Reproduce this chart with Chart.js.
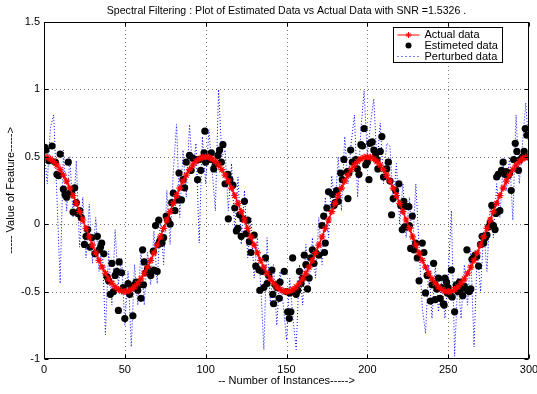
<!DOCTYPE html>
<html>
<head>
<meta charset="utf-8">
<script src="https://cdn.jsdelivr.net/npm/chart.js"></script>
<style>
html,body{margin:0;padding:0;background:#fff;}
#wrap{width:537px;height:394px;position:relative;}
</style>
</head>
<body>
<div id="wrap"><canvas id="c" width="537" height="394"></canvas></div>
<script>
// ---------- data ----------
const titleText = "Spectral Filtering : Plot of Estimated Data vs Actual Data with SNR =1.5326 .";
const xLabelText = "-- Number of Instances----->";
const yLabelText = "----- Value of Feature----->";
const legendLabels = ["Actual data", "Estimeted data", "Perturbed data"];
const xTicks = [0, 50, 100, 150, 200, 250, 300];
const yTicks = [-1, -0.5, 0, 0.5, 1, 1.5];

const instances = [0,2,4,6,8,10,12,14,16,18,20,22,24,26,28,30,32,34,36,38,40,42,44,46,48,50,52,54,56,58,60,62,64,66,68,70,72,74,76,78,80,82,84,86,88,90,92,94,96,98,
100,102,104,106,108,110,112,114,116,118,120,122,124,126,128,130,132,134,136,138,140,142,144,146,148,150,152,154,156,158,160,162,164,166,168,170,172,174,176,178,180,182,184,186,188,190,192,194,196,198,
200,202,204,206,208,210,212,214,216,218,220,222,224,226,228,230,232,234,236,238,240,242,244,246,248,250,252,254,256,258,260,262,264,266,268,270,272,274,276,278,280,282,284,286,288,290,292,294,296,298,300];

const actualData = [0.5,0.496,0.484,0.465,0.438,0.405,0.364,0.319,0.268,0.213,0.155,0.094,0.031,-0.031,-0.094,-0.155,-0.213,-0.268,-0.319,-0.364,-0.405,-0.438,-0.465,-0.484,-0.496,-0.5,-0.496,-0.484,-0.465,-0.438,-0.405,-0.364,-0.319,-0.268,-0.213,-0.155,-0.094,-0.031,0.031,0.094,0.155,0.213,0.268,0.319,0.364,0.405,0.438,0.465,0.484,0.496,
0.5,0.496,0.484,0.465,0.438,0.405,0.364,0.319,0.268,0.213,0.155,0.094,0.031,-0.031,-0.094,-0.155,-0.213,-0.268,-0.319,-0.364,-0.405,-0.438,-0.465,-0.484,-0.496,-0.5,-0.496,-0.484,-0.465,-0.438,-0.405,-0.364,-0.319,-0.268,-0.213,-0.155,-0.094,-0.031,0.031,0.094,0.155,0.213,0.268,0.319,0.364,0.405,0.438,0.465,0.484,0.496,
0.5,0.496,0.484,0.465,0.438,0.405,0.364,0.319,0.268,0.213,0.155,0.094,0.031,-0.031,-0.094,-0.155,-0.213,-0.268,-0.319,-0.364,-0.405,-0.438,-0.465,-0.484,-0.496,-0.5,-0.496,-0.484,-0.465,-0.438,-0.405,-0.364,-0.319,-0.268,-0.213,-0.155,-0.094,-0.031,0.031,0.094,0.155,0.213,0.268,0.319,0.364,0.405,0.438,0.465,0.484,0.496,
0.5];

const perturbedData = [0.55,0.3,0.72,0.81,0.2,-0.44,0.55,0.1,0.5,0.05,0.47,-0.17,0.2,-0.25,0.15,-0.29,0.05,-0.35,-0.13,-0.82,-0.2,-0.6,-0.04,-0.45,-0.25,-0.75,-0.35,-0.91,-0.3,-0.6,
-0.2,-0.6,-0.21,-0.45,-0.05,-0.44,0.05,-0.3,0.25,-0.15,0.4,0.74,0.05,0.55,0.2,0.74,0.38,0.6,-0.14,0.65,
0.3,0.7,0.4,0.1,1.0,0.5,0.55,0.1,0.45,-0.05,0.35,-0.15,0.25,-0.25,0.05,-0.4,-0.1,-0.44,-0.93,-0.1,
-0.6,-0.3,-0.75,-0.35,-0.6,-0.86,-0.4,-0.7,-0.93,-0.3,-0.6,-0.15,-0.45,-0.1,-0.4,0.05,-0.3,0.2,-0.1,0.36,
0.13,0.5,0.1,0.65,0.3,0.6,0.81,0.2,0.7,0.99,0.5,0.75,0.93,0.45,0.75,0.3,0.6,0.58,0.16,0.45,
0.0,0.3,-0.1,0.2,-0.2,0.3,-0.16,-0.62,-0.81,-0.3,-0.7,-0.3,-0.65,-0.4,-0.7,-0.39,0.1,-0.98,-0.4,-0.7,
-0.3,-0.6,-0.2,-0.91,-0.2,-0.5,-0.05,-0.35,0.15,-0.1,0.3,0.05,0.45,0.25,0.5,0.03,0.81,0.3,0.6,0.9,0.55];

const estX = [0.6,1.2,3,5,7,8,9,10,12,13,14,15,16,17,18,19,20,21,22,23,25,26,27,28.5,29.5,31.5,33,34,35,35.7,37,39,40,41,42,43,44,45,46,46.5,48,49,50,52,53,54,55,56,57,58,59,60,
61,61.5,62,63,64,65,66,67.6,68,69,70,70.7,71,71.5,72,73,74,75.6,76.6,78,79,80,81,83,83.5,85,86,87,88,90,91,92,94,95,96,97,99,99.5,100,102.5,103.5,105,106,107.6,108.6,109.7,110.7,112,113.8,114,115,116.9,118,119,
120,121,122,123,124,125,126,127,128,130,131,133,133.5,135,136,137,138,139,141,141.5,142,143,144,145.5,146,148.6,150,150.7,151.7,152,152.7,153.8,155,156,157,158,159,160,161,162,163,164,165,166,167,168,170,172,173,173.5,174,175,176,178.5,179.5,
180,181,182,183.5,184.5,185.5,187.6,188,188.6,189.7,190.7,192.8,193.8,194.8,196,197,198,199,200,201,201.6,203,204,205,206,206.5,208,209,210,212,213,214,215,216,217.5,219.5,220.6,221.6,222.6,223,223.6,224.7,225.7,226,226.8,227.8,228.8,229.9,230.9,232,234,235,236,237,239,240,
241,241.5,242,243,244,245,246,247,247.5,248,249,249.5,250,251,252,252.5,254,255,256,257,258,259,260,261.6,262,263,264,264.7,265.7,266.7,267.7,268.8,270,271,272,273,274,275,276,277,278,279,279.5,280,280.5,281,282,283,284,285,286,287,288,289,290.5,291.5,292.5,293.5,294.5,296,297,297.7,298.7,299.7];

const estY = [0.57,0.55,0.47,0.58,0.46,0.37,0.36,0.52,0.26,0.22,0.2,0.46,0.23,0.24,0.09,0.27,0.16,0.08,0.1,0.05,-0.15,-0.09,-0.04,-0.17,-0.1,-0.22,-0.09,-0.19,-0.17,-0.14,-0.22,-0.39,-0.42,-0.52,-0.29,-0.5,-0.38,-0.35,-0.64,-0.28,-0.36,-0.47,-0.7,-0.44,-0.52,-0.47,-0.68,-0.45,-0.43,-0.49,-0.45,-0.55,
-0.19,-0.45,-0.28,-0.36,-0.33,-0.36,-0.38,-0.2,-0.34,-0.01,-0.35,-0.15,0.03,-0.13,-0.12,-0.14,-0.1,0.06,0.03,0.0,0.16,0.23,0.1,0.18,0.38,0.18,0.33,0.27,0.46,0.51,0.4,0.49,0.48,0.33,0.48,0.4,0.53,0.69,0.46,0.48,0.53,0.41,0.45,0.51,0.55,0.46,0.59,0.3,0.37,0.04,0.33,0.29,0.12,-0.05,
-0.03,0.07,-0.09,0.04,0.17,-0.07,0.03,-0.13,-0.21,-0.08,-0.31,-0.34,-0.49,-0.35,-0.47,-0.25,-0.44,-0.38,-0.34,-0.52,-0.59,-0.45,-0.47,-0.55,-0.43,-0.35,-0.5,-0.65,-0.7,-0.51,-0.65,-0.25,-0.5,-0.52,-0.49,-0.35,-0.44,-0.4,-0.23,-0.3,-0.48,-0.4,-0.25,-0.19,-0.29,-0.21,-0.23,-0.01,0.06,-0.21,-0.14,0.12,0.24,0.22,0.14,
0.16,0.25,0.17,0.38,0.33,0.48,0.39,0.19,0.38,0.55,0.46,0.48,0.41,0.37,0.59,0.58,0.71,0.44,0.46,0.33,0.6,0.61,0.55,0.51,0.48,0.41,0.54,0.65,0.35,0.41,0.46,0.32,0.07,0.19,0.25,0.3,0.14,-0.04,0.17,-0.02,0.13,-0.02,0.13,-0.01,-0.18,0.06,-0.19,-0.14,-0.25,-0.42,-0.14,-0.21,-0.51,-0.38,-0.57,-0.45,
-0.29,-0.44,-0.56,-0.48,-0.4,-0.55,-0.47,-0.59,-0.6,-0.4,-0.43,-0.51,-0.47,-0.52,-0.34,-0.54,-0.65,-0.45,-0.5,-0.43,-0.48,-0.53,-0.46,-0.19,-0.49,-0.5,-0.48,-0.26,-0.25,-0.23,-0.24,-0.31,-0.15,-0.09,-0.14,-0.1,-0.08,-0.02,0.01,0.14,-0.01,-0.04,0.08,0.35,0.09,0.37,0.1,0.4,0.46,0.37,0.39,0.36,0.38,0.25,0.48,0.6,0.54,0.4,0.48,0.5,0.54,0.71,0.66,0.5];

// ---------- styles ----------
const FONT = "'Liberation Sans', Arial, Helvetica, sans-serif";
const RED = '#ff0000', BLUE = '#0000ff', BLACK = '#000000';

function pts(xs, ys){ return xs.map((x,i)=>({x:x, y:ys[i]})); }

function drawAsterisk(ctx, x, y, r){
  ctx.beginPath();
  for (let k=0;k<4;k++){
    const a = k*Math.PI/4;
    ctx.moveTo(x - r*Math.cos(a), y - r*Math.sin(a));
    ctx.lineTo(x + r*Math.cos(a), y + r*Math.sin(a));
  }
  ctx.stroke();
}

const decor = {
  id: 'decor',
  beforeDatasetsDraw(chart){
    const {ctx, chartArea:a, scales:{x, y}} = chart;
    ctx.save();
    ctx.strokeStyle = 'rgba(0,0,0,0.55)';
    ctx.lineWidth = 1;
    ctx.setLineDash([1,3]);
    xTicks.forEach(v=>{
      if (v===xTicks[0] || v===xTicks[xTicks.length-1]) return;
      const px = Math.round(x.getPixelForValue(v)) + 0.5;
      ctx.beginPath(); ctx.moveTo(px, a.top); ctx.lineTo(px, a.bottom); ctx.stroke();
    });
    yTicks.forEach(v=>{
      if (v===yTicks[0] || v===yTicks[yTicks.length-1]) return;
      const py = Math.round(y.getPixelForValue(v)) + 0.5;
      ctx.beginPath(); ctx.moveTo(a.left, py); ctx.lineTo(a.right, py); ctx.stroke();
    });
    ctx.restore();
  },
  afterDraw(chart){
    const {ctx, chartArea:a, scales:{x, y}} = chart;
    ctx.save();
    // frame
    ctx.setLineDash([]);
    ctx.strokeStyle = BLACK; ctx.lineWidth = 1;
    const L = Math.round(a.left)+0.5, R = Math.round(a.right)-0.5, T = Math.round(a.top)+0.5, B = Math.round(a.bottom)-0.5;
    ctx.strokeRect(L, T, R-L, B-T);
    // inward ticks
    const tl = 4;
    ctx.beginPath();
    xTicks.forEach(v=>{
      const px = Math.round(x.getPixelForValue(v)) + 0.5;
      ctx.moveTo(px, B); ctx.lineTo(px, B-tl);
      ctx.moveTo(px, T); ctx.lineTo(px, T+tl);
    });
    yTicks.forEach(v=>{
      const py = Math.round(y.getPixelForValue(v)) + 0.5;
      ctx.moveTo(L, py); ctx.lineTo(L+tl, py);
      ctx.moveTo(R, py); ctx.lineTo(R-tl, py);
    });
    ctx.stroke();
    // title
    ctx.fillStyle = BLACK;
    ctx.font = '10.6px ' + FONT;
    ctx.textAlign = 'center'; ctx.textBaseline = 'middle';
    ctx.fillText(titleText, (a.left + a.right)/2, 11);
    // x label
    ctx.font = '11px ' + FONT;
    ctx.fillText(xLabelText, (a.left + a.right)/2, 381);
    // y label
    ctx.save();
    ctx.translate(11, (a.top + a.bottom)/2);
    ctx.rotate(-Math.PI/2);
    ctx.fillText(yLabelText, 0, 0);
    ctx.restore();
    // legend
    const bx = Math.round(a.right) - 136 + 0.5, by = Math.round(a.top) + 5 + 0.5, bw = 109, bh = 35;
    ctx.fillStyle = '#fff';
    ctx.fillRect(bx, by, bw, bh);
    ctx.strokeStyle = BLACK; ctx.lineWidth = 1;
    ctx.strokeRect(bx, by, bw, bh);
    const rows = [by + 7.5, by + 18, by + 29];
    const sx0 = bx + 4, sx1 = bx + 26, sxm = (sx0 + sx1)/2;
    // actual
    ctx.strokeStyle = RED; ctx.lineWidth = 1;
    ctx.beginPath(); ctx.moveTo(sx0, rows[0]); ctx.lineTo(sx1, rows[0]); ctx.stroke();
    drawAsterisk(ctx, sxm, rows[0], 3);
    // estimated
    ctx.fillStyle = BLACK;
    ctx.beginPath(); ctx.arc(sxm, rows[1], 3, 0, Math.PI*2); ctx.fill();
    // perturbed
    ctx.strokeStyle = BLUE; ctx.setLineDash([1,3]);
    ctx.beginPath(); ctx.moveTo(sx0, rows[2]); ctx.lineTo(sx1, rows[2]); ctx.stroke();
    ctx.setLineDash([]);
    ctx.fillStyle = BLACK;
    ctx.font = '11px ' + FONT;
    ctx.textAlign = 'left'; ctx.textBaseline = 'middle';
    legendLabels.forEach((t,i)=>ctx.fillText(t, bx + 31, rows[i]));
    ctx.restore();
  }
};

new Chart(document.getElementById('c'), {
  type: 'scatter',
  data: {
    datasets: [
      {
        label: legendLabels[0],
        data: pts(instances, actualData),
        showLine: true,
        borderColor: RED, borderWidth: 1.5,
        pointStyle: 'star', pointRadius: 3.5, pointBorderColor: RED, pointBorderWidth: 1.2,
        pointBackgroundColor: RED,
        order: 0
      },
      {
        label: legendLabels[1],
        data: pts(estX, estY),
        showLine: false,
        pointStyle: 'circle', pointRadius: 3.6, pointBorderWidth: 0,
        pointBackgroundColor: BLACK, borderColor: BLACK,
        order: 1
      },
      {
        label: legendLabels[2],
        data: pts(instances, perturbedData),
        showLine: true,
        borderColor: BLUE, borderWidth: 1, borderDash: [1,2],
        pointRadius: 0,
        order: 2
      }
    ]
  },
  options: {
    responsive: false,
    animation: false,
    devicePixelRatio: 1,
    layout: { padding: { top: 22, right: 8, left: 0, bottom: 0 } },
    plugins: { legend: { display: false }, tooltip: { enabled: false }, title: { display: false } },
    scales: {
      x: {
        type: 'linear', min: 0, max: 300,
        afterBuildTicks(s){ s.ticks = xTicks.map(v=>({value:v})); },
        ticks: { color: BLACK, font: { family: FONT, size: 11 }, padding: 4, maxRotation: 0, autoSkip: false,
                 callback: v => String(v) },
        grid: { display: false, drawTicks: false },
        border: { display: false },
        afterFit(s){ s.height = 35; s.paddingLeft = 0; s.paddingRight = 0; }
      },
      y: {
        type: 'linear', min: -1, max: 1.5,
        afterBuildTicks(s){ s.ticks = yTicks.map(v=>({value:v})); },
        ticks: { color: BLACK, font: { family: FONT, size: 11 }, padding: 4, autoSkip: false,
                 callback: v => String(v) },
        grid: { display: false, drawTicks: false },
        border: { display: false },
        afterFit(s){ s.width = 44; s.paddingTop = 0; s.paddingBottom = 0; }
      }
    }
  },
  plugins: [decor]
});
</script>
</body>
</html>
